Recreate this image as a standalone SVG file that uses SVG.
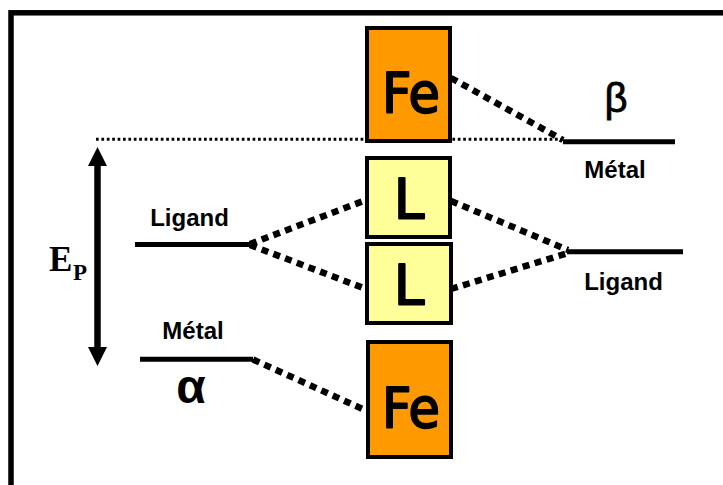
<svg xmlns="http://www.w3.org/2000/svg" width="723" height="485" viewBox="0 0 723 485">
  <style>
    .frame { fill: none; stroke: #000; stroke-width: 5.5; }
    .level { stroke: #000; stroke-width: 5; fill: none; }
    .link { stroke: #000; stroke-width: 6.5; stroke-dasharray: 7 5.5; fill: none; }
    .ref { stroke: #000; stroke-width: 3; stroke-dasharray: 2.7 2.7; fill: none; }
    .fe rect { fill: #FF9900; stroke: #000; stroke-width: 4; }
    .lig rect { fill: #FFFF99; stroke: #000; stroke-width: 4; }
    .sym { font-family: "DejaVu Sans", sans-serif; font-size: 55px; fill: #000; stroke: #000; stroke-width: 2; stroke-linejoin: round; text-anchor: middle; }
    .lbl { font-family: "Liberation Sans", Arial, sans-serif; font-weight: bold; font-size: 24px; fill: #000; text-anchor: middle; }
    .greek { font-family: "Liberation Sans", Arial, sans-serif; fill: #000; text-anchor: middle; }
    .ep { font-family: "Liberation Serif", "Times New Roman", serif; font-weight: bold; fill: #000; }
  </style>

  <!-- outer frame (only top and left edges fall inside the canvas) -->
  <rect class="frame" x="11" y="12.8" width="800" height="600"/>

  <!-- energy axis -->
  <g id="axis">
    <line x1="97.5" y1="164" x2="97.5" y2="348" stroke="#000" stroke-width="6.5"/>
    <path d="M97.5,147 L107,166 L88,166 Z" fill="#000"/>
    <path d="M97.5,366 L107,347 L88,347 Z" fill="#000"/>
    <text class="ep" x="49" y="271" font-size="35">E</text>
    <text class="ep" x="73" y="280" font-size="23">P</text>
  </g>

  <!-- connectors -->
  <g id="connectors">
    <line class="ref" x1="96" y1="139.3" x2="564" y2="139.3"/>
    <line class="link" x1="451" y1="78" x2="563" y2="140"/>
    <line class="link" x1="451" y1="201" x2="568" y2="250"/>
    <line class="link" x1="451" y1="289" x2="568" y2="253"/>
    <line class="link" x1="250" y1="244" x2="366" y2="200"/>
    <line class="link" x1="250" y1="245" x2="366" y2="289"/>
    <line class="link" x1="253" y1="359.5" x2="367" y2="411"/>
  </g>

  <!-- energy levels -->
  <g id="metal-beta">
    <line class="level" x1="563" y1="141.7" x2="675" y2="141.7"/>
    <text class="greek" x="616" y="112" font-size="40" stroke="#000" stroke-width="0.8">β</text>
    <text class="lbl" x="615" y="178">Métal</text>
  </g>
  <g id="ligand-right">
    <line class="level" x1="567" y1="251.7" x2="683" y2="251.7"/>
    <text class="lbl" x="623.5" y="290" font-size="26">Ligand</text>
  </g>
  <g id="ligand-left">
    <line class="level" x1="135" y1="244.5" x2="250" y2="244.5"/>
    <text class="lbl" x="189.5" y="226" font-size="26">Ligand</text>
  </g>
  <g id="metal-alpha">
    <line class="level" x1="140" y1="359.3" x2="253" y2="359.3"/>
    <text class="lbl" x="193" y="339">Métal</text>
    <text class="greek" x="191" y="403" font-size="48" font-weight="bold">α</text>
  </g>

  <!-- boxes -->
  <g id="fe-top" class="fe">
    <rect x="367" y="28" width="83" height="113"/>
    <text class="sym" x="411" y="112" textLength="58" lengthAdjust="spacingAndGlyphs">Fe</text>
  </g>
  <g id="l-upper" class="lig">
    <rect x="367" y="158" width="83" height="79"/>
    <text class="sym" x="409" y="218">L</text>
  </g>
  <g id="l-lower" class="lig">
    <rect x="367" y="244" width="84" height="79"/>
    <text class="sym" x="409" y="304">L</text>
  </g>
  <g id="fe-bottom" class="fe">
    <rect x="368" y="342" width="83" height="115"/>
    <text class="sym" x="411" y="427" textLength="58" lengthAdjust="spacingAndGlyphs">Fe</text>
  </g>
</svg>
